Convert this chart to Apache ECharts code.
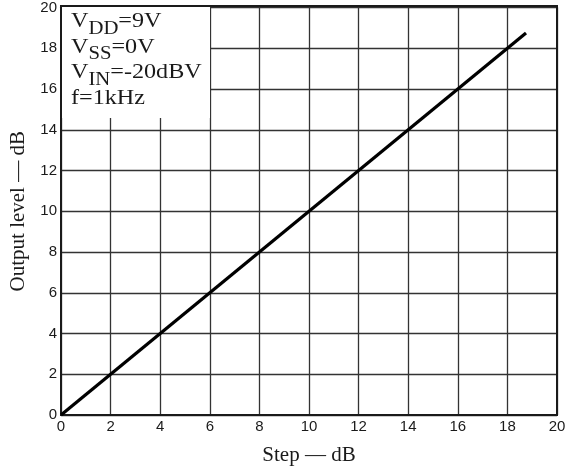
<!DOCTYPE html>
<html>
<head>
<meta charset="utf-8">
<script src="https://cdn.jsdelivr.net/npm/echarts@6/dist/echarts.min.js"></script>
<style>
  html, body { margin: 0; padding: 0; background: #fff; }
  #chart { width: 577px; height: 473px; }
</style>
</head>
<body>
<div id="chart"></div>
<script>
// step values (dB) and the output level
const stepDb = [0, 18.75]
const outputDb = [0, 18.75]
const xTicks = [0, 2, 4, 6, 8, 10, 12, 14, 16, 18, 20]
const yTicks = [0, 2, 4, 6, 8, 10, 12, 14, 16, 18, 20]
// conditions box, each line: [main, subscript, rest]
const conditions = [
  ['V', 'DD', '=9V'],
  ['V', 'SS', '=0V'],
  ['V', 'IN', '=-20dBV'],
  ['f=1kHz', '', '']
]

const ink = '#1a1a1a'
const serif = '"Liberation Serif", "DejaVu Serif", serif'
const sans = '"Liberation Sans", Arial, sans-serif'

let myChart = echarts.init(document.getElementById('chart'))

let points = stepDb.map((x, i) => [x, outputDb[i]])

// one text element per line, subscript pushed down with top padding
let condLines = conditions.map((c, i) => {
  let s = '{v|' + c[0] + '}'
  if (c[1]) s += '{s|' + c[1] + '}'
  if (c[2]) s += '{v|' + c[2] + '}'
  return {
    type: 'text',
    x: 71,
    y: 11 + i * 25.7,
    scaleX: 1.15,
    z: 7,
    style: {
      text: s,
      fill: ink,
      verticalAlign: 'top',
      rich: {
        v: { fontFamily: serif, fontSize: 21, lineHeight: 24, verticalAlign: 'top' },
        s: { fontFamily: serif, fontSize: 18, lineHeight: 18, verticalAlign: 'top', padding: [9, 0, 0, 0] }
      }
    }
  }
})

let options = {
  animation: false,
  grid: { left: 61, right: 20, top: 6, bottom: 58 },
  xAxis: {
    type: 'value',
    min: xTicks[0],
    max: xTicks[xTicks.length - 1],
    interval: 2,
    name: 'Step — dB',
    nameLocation: 'middle',
    nameGap: 30,
    nameTextStyle: { fontFamily: serif, fontSize: 21, color: ink },
    axisLine: { lineStyle: { color: ink, width: 2 } },
    axisTick: { show: false },
    axisLabel: { color: ink, fontFamily: sans, fontSize: 15, margin: 4 },
    splitLine: { lineStyle: { color: '#333', width: 1.3 } }
  },
  yAxis: {
    type: 'value',
    min: yTicks[0],
    max: yTicks[yTicks.length - 1],
    interval: 2,
    name: 'Output level — dB',
    nameLocation: 'middle',
    nameGap: 29,
    nameTextStyle: { fontFamily: serif, fontSize: 21, color: ink },
    axisLine: { lineStyle: { color: ink, width: 2 } },
    axisTick: { show: false },
    axisLabel: { color: ink, fontFamily: sans, fontSize: 15, margin: 4 },
    splitLine: { lineStyle: { color: '#333', width: 1.3 } }
  },
  graphic: [
    // frame top/right
    {
      type: 'rect',
      shape: { x: 61, y: 6, width: 496, height: 409 },
      style: { fill: 'none', stroke: ink, lineWidth: 2 },
      z: 5
    },
    // white box behind the conditions
    {
      type: 'rect',
      shape: { x: 62, y: 7, width: 148, height: 111 },
      style: { fill: '#fff' },
      z: 6
    }
  ].concat(condLines),
  series: [{
    type: 'line',
    data: points,
    showSymbol: false,
    lineStyle: { color: '#000', width: 3.2 },
    z: 10
  }]
}

myChart.setOption(options)
</script>
</body>
</html>
